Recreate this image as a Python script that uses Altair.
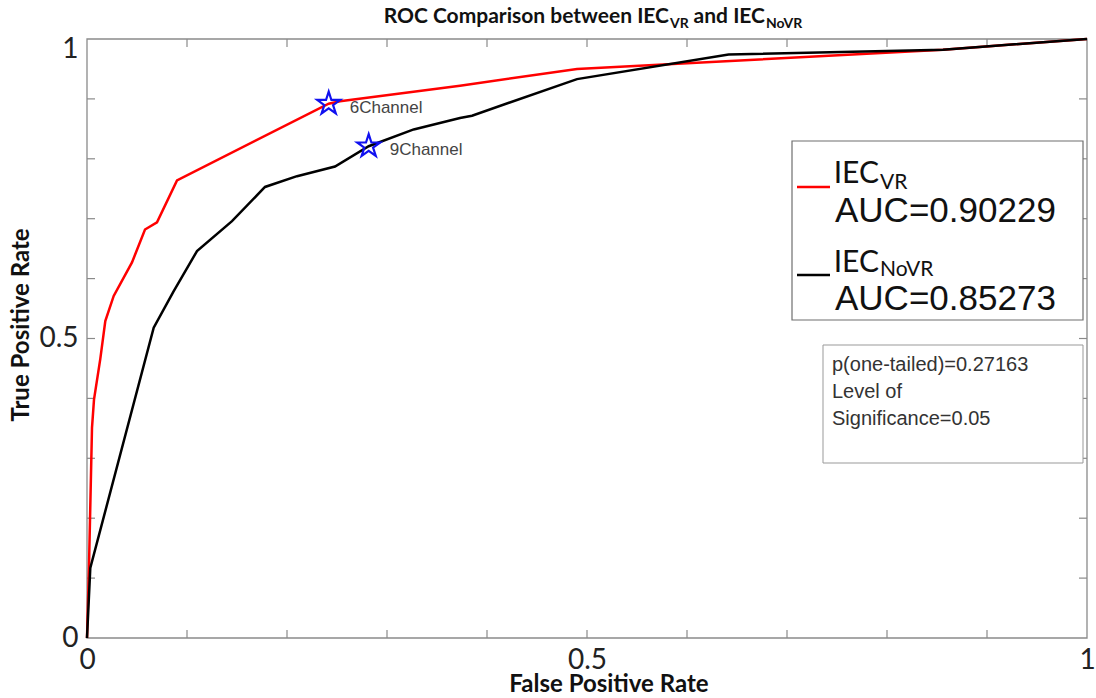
import altair as alt
import pandas as pd

# ---------------- data ----------------
fpr_vr = [0.0, 0.002, 0.005, 0.007, 0.0133, 0.0183, 0.0267, 0.045, 0.058, 0.070, 0.090,
          0.2417, 0.253, 0.373, 0.490, 0.856, 0.902, 1.0]
tpr_vr = [0.0, 0.12, 0.351, 0.398, 0.466, 0.529, 0.571, 0.627, 0.682, 0.694, 0.764,
          0.892, 0.896, 0.922, 0.950, 0.982, 0.988, 1.0]

fpr_novr = [0.0, 0.0033, 0.0667, 0.0863, 0.110, 0.145, 0.178, 0.210, 0.248, 0.2817, 0.3267,
            0.373, 0.385, 0.490, 0.6416, 0.856, 0.902, 1.0]
tpr_novr = [0.0, 0.117, 0.518, 0.578, 0.646, 0.696, 0.753, 0.771, 0.787, 0.821, 0.849,
            0.868, 0.872, 0.933, 0.974, 0.982, 0.988, 1.0]

series_names = ["IEC_VR", "IEC_NoVR"]
series_colors = ["#ff0000", "#000000"]

point_labels = ["6Channel", "9Channel"]
point_fpr = [0.2417, 0.2817]
point_tpr = [0.892, 0.821]

minor_ticks = [0.1, 0.2, 0.3, 0.4, 0.5, 0.6, 0.7, 0.8, 0.9]
tick_labels = [0, 0.5, 1]

title_parts = ["ROC Comparison between IEC", "VR", "and IEC", "NoVR"]
legend_main = ["IEC", "IEC"]
legend_sub = ["VR", "NoVR"]
auc_texts = ["AUC=0.90229", "AUC=0.85273"]
stats_lines = ["p(one-tailed)=0.27163", "Level of", "Significance=0.05"]
x_title = "False Positive Rate"
y_title = "True Positive Rate"

# ---------------- layout ----------------
W, H = 1000, 599
FRAME = "#8a8a8a"
CAL = "Lato"
ARIAL = "Liberation Sans"

rows = []
for name, xs_, ys_ in [(series_names[0], fpr_vr, tpr_vr), (series_names[1], fpr_novr, tpr_novr)]:
    for i, (a, b) in enumerate(zip(xs_, ys_)):
        rows.append({"series": name, "fpr": a, "tpr": b, "order": i})
curves = pd.DataFrame(rows)

pts = pd.DataFrame({"label": point_labels, "fpr": point_fpr, "tpr": point_tpr})
ticks = pd.DataFrame({"v": minor_ticks})
one = pd.DataFrame({"k": [0]})

xs = alt.Scale(domain=[0, 1], nice=False, zero=False)
ys = alt.Scale(domain=[0, 1], nice=False, zero=False)

xa = alt.Axis(values=tick_labels, format="~g", ticks=False, domain=False, grid=False,
              labelFont=CAL, labelFontSize=28, labelColor="#222222", labelPadding=8,
              title=None, labelFlush=False)
ya = alt.Axis(values=tick_labels, format="~g", ticks=False, domain=False, grid=False,
              labelFont=CAL, labelFontSize=28, labelColor="#222222", labelPadding=9,
              labelBaseline={"condition": {"test": "datum.value == 1", "value": "top"},
                             "value": "middle"},
              labelOffset={"condition": {"test": "datum.value == 1", "value": -4},
                           "value": 0},
              title=None, labelFlush=False)

X = lambda f: alt.X(f, scale=xs, axis=xa)
Y = lambda f: alt.Y(f, scale=ys, axis=ya)


def txt(t, x, y, **kw):
    return alt.Chart(pd.DataFrame({"t": [t]})).mark_text(**kw).encode(
        x=alt.value(x), y=alt.value(y), text="t:N")


def box(x1, x2, y1, y2, stroke, sw=1.0):
    return alt.Chart(one).mark_rect(fill="white", stroke=stroke, strokeWidth=sw).encode(
        x=alt.value(x1), x2=alt.value(x2), y=alt.value(y1), y2=alt.value(y2))


frame = alt.Chart(one).mark_rect(fillOpacity=0, stroke=FRAME, strokeWidth=1.3).encode(
    x=alt.value(0), x2=alt.value(W), y=alt.value(0), y2=alt.value(H))

tick_bottom = alt.Chart(ticks).mark_rule(color=FRAME, strokeWidth=1.2).encode(
    x=X("v:Q"), y=alt.value(H), y2=alt.value(H - 8))
tick_top = alt.Chart(ticks).mark_rule(color=FRAME, strokeWidth=1.2).encode(
    x=X("v:Q"), y=alt.value(0), y2=alt.value(8))
tick_left = alt.Chart(ticks).mark_rule(color=FRAME, strokeWidth=1.2).encode(
    y=Y("v:Q"), x=alt.value(0), x2=alt.value(8))
tick_right = alt.Chart(ticks).mark_rule(color=FRAME, strokeWidth=1.2).encode(
    y=Y("v:Q"), x=alt.value(W), x2=alt.value(W - 8))

lines = alt.Chart(curves).mark_line(strokeWidth=2.5).encode(
    x=X("fpr:Q"), y=Y("tpr:Q"),
    color=alt.Color("series:N", scale=alt.Scale(domain=series_names, range=series_colors),
                    legend=None),
    order="order:Q")

STAR = ("M0,-1L0.2245,-0.309L0.9511,-0.309L0.3633,0.118L0.5878,0.809L0,0.382"
        "L-0.5878,0.809L-0.3633,0.118L-0.9511,-0.309L-0.2245,-0.309Z")
stars = alt.Chart(pts).mark_point(shape=STAR, filled=False, color="#1010f0", opacity=1,
                                  strokeWidth=2.2, size=580).encode(x=X("fpr:Q"), y=Y("tpr:Q"))
star_txt = alt.Chart(pts).mark_text(align="left", baseline="middle", dx=21, dy=4,
                                    font=ARIAL, fontSize=17, color="#444444").encode(
    x=X("fpr:Q"), y=Y("tpr:Q"), text="label:N")

layers = [frame, tick_bottom, tick_top, tick_left, tick_right, lines, stars, star_txt]

# legend box
layers.append(box(705, 996, 102, 281, "#6f6f6f", 1.2))
leg_y_line = [148, 236]
leg_y_main = [144, 233]
leg_y_sub = [150, 237]
leg_y_auc = [183, 271]
for i in range(2):
    layers.append(alt.Chart(one).mark_rule(color=series_colors[i], strokeWidth=2.5).encode(
        x=alt.value(710), x2=alt.value(743), y=alt.value(leg_y_line[i])))
    layers.append(txt(legend_main[i], 792, leg_y_main[i], align="right", baseline="alphabetic",
                      font=CAL, fontSize=30, color="#111111"))
    layers.append(txt(legend_sub[i], 793, leg_y_sub[i], align="left", baseline="alphabetic",
                      font=CAL, fontSize=21, color="#111111"))
    layers.append(txt(auc_texts[i], 748, leg_y_auc[i], align="left", baseline="alphabetic",
                      font=ARIAL, fontSize=35, color="#111111"))

# statistics box
layers.append(box(736, 996, 306, 424, "#999999", 1.0))
for i, s in enumerate(stats_lines):
    layers.append(txt(s, 745, 332 + 27 * i, align="left", baseline="alphabetic",
                      font=ARIAL, fontSize=20, color="#333333"))

# title with subscripts
layers.append(txt(title_parts[0], 582, -16, align="right", baseline="alphabetic",
                  font=CAL, fontSize=21, fontWeight="bold", color="#111111"))
layers.append(txt(title_parts[1], 583, -11, align="left", baseline="alphabetic",
                  font=CAL, fontSize=14, fontWeight="bold", color="#111111"))
layers.append(txt(title_parts[2], 678, -16, align="right", baseline="alphabetic",
                  font=CAL, fontSize=21, fontWeight="bold", color="#111111"))
layers.append(txt(title_parts[3], 679, -11, align="left", baseline="alphabetic",
                  font=CAL, fontSize=14, fontWeight="bold", color="#111111"))

# axis titles
layers.append(txt(x_title, 522, 653, align="center", baseline="alphabetic",
                  font=CAL, fontSize=24, fontWeight="bold", color="#111111"))
layers.append(txt(y_title, -65, 286, align="center", baseline="middle", angle=270,
                  font=CAL, fontSize=24, fontWeight="bold", color="#111111"))

chart = alt.layer(*layers).properties(
    width=W, height=H,
    padding={"left": 87, "top": 39, "right": 9, "bottom": 60},
    autosize=alt.AutoSizeParams(type="none"),
    background="white",
).configure_view(stroke=None)

chart.save("out.html", embed_options={"renderer": "svg", "actions": False})
